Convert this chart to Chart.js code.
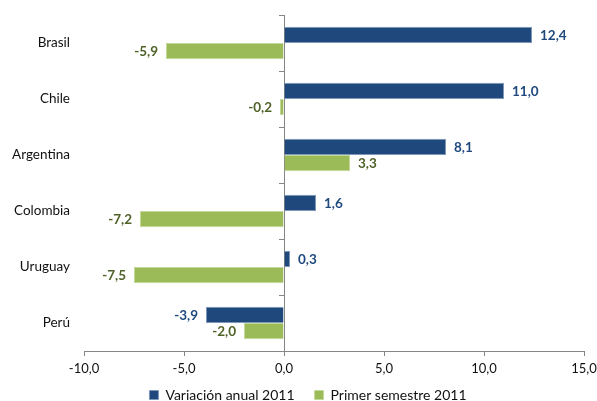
<!DOCTYPE html>
<html>
<head>
<meta charset="utf-8">
<script src="https://cdn.jsdelivr.net/npm/chart.js@4/dist/chart.umd.min.js"></script>
<style>
  html, body { margin: 0; padding: 0; background: #fff; }
  #wrap { width: 597px; height: 401px; }
</style>
</head>
<body>
<div id="wrap"><canvas id="myChart"></canvas></div>
<script>
// DATA
var paises = ['Brasil', 'Chile', 'Argentina', 'Colombia', 'Uruguay', 'Perú'];
var variacionAnual = [12.4, 11.0, 8.1, 1.6, 0.3, -3.9];
var primerSemestre = [-5.9, -0.2, 3.3, -7.2, -7.5, -2.0];
var serieNombres = ['Variación anual 2011', 'Primer semestre 2011'];
var xMin = -10, xMax = 15, xPaso = 5;

var FONT = 'Lato, "Open Sans", sans-serif';
Chart.defaults.font.family = FONT;
Chart.defaults.font.size = 13;
Chart.defaults.color = '#111';

function coma(v) {
  return Number(v).toFixed(1).replace('.', ',');
}

// etiquetas de valor junto a cada barra
const etiquetas = {
  id: 'etiquetas',
  afterDatasetsDraw(chart) {
    const ctx = chart.ctx;
    const colores = ['#1F497D', '#4F6228'];
    ctx.save();
    ctx.font = 'bold 13.5px ' + FONT;
    ctx.textBaseline = 'middle';
    chart.data.datasets.forEach(function (ds, i) {
      const meta = chart.getDatasetMeta(i);
      meta.data.forEach(function (bar, j) {
        const v = ds.data[j];
        ctx.fillStyle = colores[i];
        if (v >= 0) {
          ctx.textAlign = 'left';
          ctx.fillText(coma(v), bar.x + 8, bar.y + 1);
        } else {
          ctx.textAlign = 'right';
          ctx.fillText(coma(v), bar.x - 8, bar.y + 1);
        }
      });
    });
    ctx.restore();
  }
};

// marcas del eje vertical en el cero
const ejeCero = {
  id: 'ejeCero',
  afterLayout(chart) {
    // deja sitio a las etiquetas del eje x (que se recortan a su caja)
    const sx = chart.scales.x;
    sx.bottom = sx.top + 28;
    // leyenda algo desplazada a la derecha, como en el original
    chart.legend.left += 16;
    chart.legend.right += 16;
  },
  afterDatasetsDraw(chart) {
    const ctx = chart.ctx;
    const x0 = chart.scales.x.getPixelForValue(0);
    const y = chart.scales.y;
    ctx.save();
    ctx.strokeStyle = '#868686';
    ctx.lineWidth = 1;
    ctx.beginPath();
    for (let k = 0; k < paises.length; k++) {
      const py = Math.round(y.getPixelForValue(k - 0.5)) + 0.5;
      ctx.moveTo(x0 - 5, py);
      ctx.lineTo(x0, py);
    }
    ctx.stroke();
    ctx.restore();
  }
};

const data = {
  labels: paises,
  datasets: [
    {
      label: serieNombres[0],
      data: variacionAnual,
      backgroundColor: '#1F497D',
      borderColor: '#7F98B8',
      borderWidth: 1,
      barPercentage: 1,
      categoryPercentage: 0.58
    },
    {
      label: serieNombres[1],
      data: primerSemestre,
      backgroundColor: '#9BBB59',
      borderColor: '#C4D89B',
      borderWidth: 1,
      barPercentage: 1,
      categoryPercentage: 0.58
    }
  ]
};

const config = {
  type: 'bar',
  data: data,
  options: {
    indexAxis: 'y',
    responsive: true,
    maintainAspectRatio: false,
    animation: false,
    layout: { padding: { top: 15, right: 13, left: 0, bottom: -11 } },
    scales: {
      x: {
        min: xMin,
        max: xMax,
        ticks: {
          stepSize: xPaso,
          padding: 5,
          color: '#111',
          callback: function (v) { return coma(v); }
        },
        grid: {
          color: function (c) { return c.tick && c.tick.value === 0 ? '#868686' : 'rgba(0,0,0,0)'; },
          tickColor: '#868686',
          tickLength: 5
        },
        border: { display: true, color: '#868686' },
        afterFit: function (s) { s.height = 17; s.paddingLeft = 0; s.paddingRight = 0; }
      },
      y: {
        ticks: { padding: 6, color: '#111', font: { size: 13.5 } },
        grid: { display: false },
        border: { display: false },
        afterFit: function (s) { s.width = 84; }
      }
    },
    plugins: {
      tooltip: { enabled: false },
      legend: {
        display: true,
        position: 'bottom',
        labels: {
          boxWidth: 9,
          boxHeight: 9,
          padding: 20,
          color: '#111',
          font: { size: 14 }
        }
      }
    }
  },
  plugins: [etiquetas, ejeCero]
};

const myChart = new Chart(document.getElementById('myChart'), config);
</script>
</body>
</html>
